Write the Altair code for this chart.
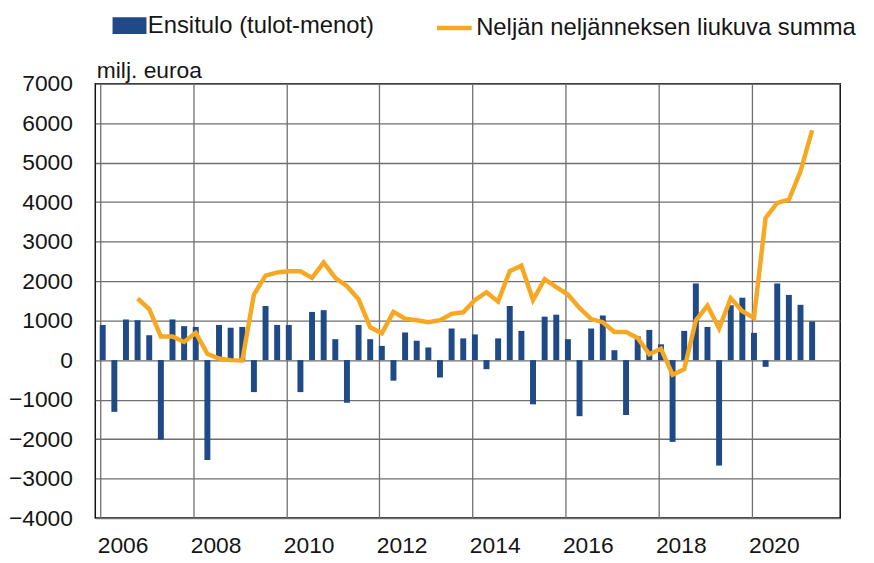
import altair as alt
import pandas as pd

# ---- data ----
start_year = 2006
bar_values = [
    890, -1310, 1030, 1010,    # 2006
    630, -2010, 1030, 860,     # 2007
    840, -2530, 890, 820,      # 2008
    840, -810, 1370, 890,      # 2009
    890, -810, 1220, 1265,     # 2010
    530, -1080, 890, 530,      # 2011
    360, -520, 700, 490,       # 2012
    320, -440, 800, 550,       # 2013
    650, -230, 550, 1370,      # 2014
    740, -1120, 1100, 1150,    # 2015
    530, -1420, 800, 1130,     # 2016
    250, -1390, 600, 765,      # 2017
    400, -2070, 740, 1940,     # 2018
    840, -2670, 1390, 1580,    # 2019
    690, -170, 1940, 1650,     # 2020
    1400, 980,                 # 2021
]
# moving four-quarter sum, starts at 2006 Q4
line_start_index = 3
line_values = [
    1560,                      # 2006 Q4
    1290, 600, 600, 460,       # 2007
    690, 160, 40, 0,           # 2008
    -10, 1660, 2140, 2220,     # 2009
    2250, 2250, 2080, 2470,    # 2010
    2080, 1870, 1540, 830,     # 2011
    680, 1220, 1050, 1010,     # 2012
    960, 1010, 1170, 1210,     # 2013
    1520, 1720, 1480, 2250,    # 2014
    2390, 1520, 2050, 1850,    # 2015
    1660, 1320, 1040, 960,     # 2016
    710, 710, 560, 150,        # 2017
    290, -370, -230, 1000,     # 2018
    1380, 800, 1570, 1240,     # 2019
    1070, 3600, 3980, 4060,    # 2020
    4780, 5820,                # 2021
]
bar_name = "Ensitulo (tulot-menot)"
line_name = "Neljän neljänneksen liukuva summa"
axis_years = [2006, 2008, 2010, 2012, 2014, 2016, 2018, 2020]
y_ticks = [-4000, -3000, -2000, -1000, 0, 1000, 2000, 3000, 4000, 5000, 6000, 7000]

# ---- build tables ----
pos_offset = 0.053  # small shift of each quarter's mark from the quarter start
t_all = [start_year + i / 4 + pos_offset for i in range(len(bar_values))]
bars = pd.DataFrame({"t": t_all, "v": bar_values, "s": bar_name})
line = pd.DataFrame({
    "t": t_all[line_start_index:line_start_index + len(line_values)],
    "v": line_values,
    "s2": line_name,
})

W, H = 751, 438
x_dom = [2006, 2021.8]

FONT = "Liberation Sans"
BLUE = "#1f4a86"
ORANGE = "#f7a823"
TXT = "#151515"

x_enc = alt.X(
    "t:Q",
    scale=alt.Scale(domain=x_dom, nice=False, zero=False),
    axis=alt.Axis(
        values=axis_years, format="d", title=None, grid=True,
        ticks=False, tickSize=0, domain=False, labelOffset=22.5,
        labelFlush=False, labelOverlap=False, labelPadding=17,
        labelFontSize=23, labelFont=FONT, labelColor=TXT,
        gridColor="#6f6f6f", gridWidth=1.3,
    ),
)
y_enc = alt.Y(
    "v:Q",
    scale=alt.Scale(domain=[-4000, 7000], nice=False),
    axis=alt.Axis(
        values=y_ticks, format="d", title="milj. euroa", grid=True,
        ticks=False, tickSize=0, domain=False, labelPadding=23,
        labelFontSize=23, labelFont=FONT, labelColor=TXT,
        gridColor="#6f6f6f", gridWidth=1.3,
        titleAngle=0, titleAlign="left", titleBaseline="alphabetic",
        titleX=1, titleY=-6, titleFontSize=23, titleFont=FONT,
        titleFontWeight="normal", titleColor=TXT,
    ),
)

bar_layer = alt.Chart(bars).mark_bar(size=6).encode(
    x=x_enc,
    y=y_enc,
    color=alt.Color(
        "s:N",
        scale=alt.Scale(domain=[bar_name], range=[BLUE]),
        legend=alt.Legend(
            title=None, orient="none", legendX=17, legendY=-76,
            symbolType="M-1,-0.5H1V0.5H-1Z", symbolSize=1170,
            symbolStrokeWidth=0, symbolOpacity=1,
            labelFontSize=24, labelFont=FONT, labelColor=TXT,
            labelLimit=600, labelOffset=1, padding=0,
        ),
    ),
)

line_layer = alt.Chart(line).mark_line(strokeWidth=4.5).encode(
    x=x_enc,
    y=y_enc,
    stroke=alt.Stroke(
        "s2:N",
        scale=alt.Scale(domain=[line_name], range=[ORANGE]),
        legend=alt.Legend(
            title=None, orient="none", legendX=342, legendY=-76,
            symbolType="stroke", symbolSize=1225, symbolStrokeWidth=4.5,
            labelFontSize=24, labelFont=FONT, labelColor=TXT,
            labelLimit=600, labelOffset=2, padding=0,
        ),
    ),
)

chart = (
    alt.layer(bar_layer, line_layer)
    .properties(
        width=W, height=H,
        autosize=alt.AutoSizeParams(type="none"),
        padding={"left": 88, "top": 74, "right": 26, "bottom": 40},
        background="white",
    )
    .configure_view(stroke="#111111", strokeWidth=1.5)
)

chart.save("out.html", embed_options={"renderer": "svg", "actions": False})
